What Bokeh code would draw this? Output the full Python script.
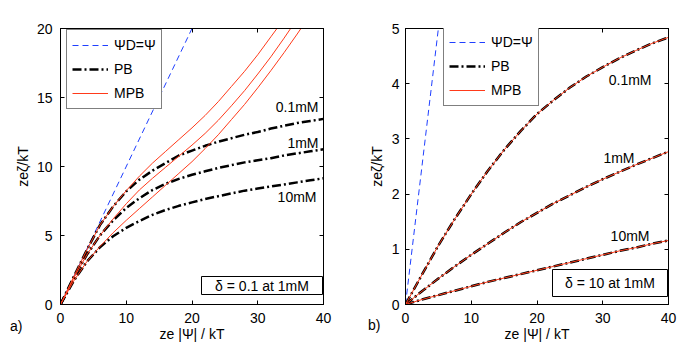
from bokeh.plotting import figure
from bokeh.models import (Range1d, LinearAxis, Legend, LegendItem, Label, BoxAnnotation,
                          FixedTicker, CustomLabelingPolicy, Div)
from bokeh.layouts import row
from bokeh.embed import file_html
from bokeh.resources import INLINE

# ---------------- data ----------------
x_ticks = [0, 10, 20, 30, 40]
y_ticks_a = [0, 5, 10, 15, 20]
y_ticks_b = [0, 1, 2, 3, 4, 5]
conc_labels = ["0.1mM", "1mM", "10mM"]
legend_labels = ["\u03a8D=\u03a8", "PB", "MPB"]
delta_labels = ["\u03b4 = 0.1 at 1mM", "\u03b4 = 10 at 1mM"]
panel_tags = ["a)", "b)"]
x_label = "ze |\u03a8| / kT"
y_label = "ze\u03b6/kT"

# psi_D = psi reference line
psi_line = [0, 40]
zeta_line = [0, 40]

# panel a (delta = 0.1) -- PB
psi_a = [0, 2, 4, 6, 8, 10, 12, 14, 16, 18, 20, 22, 24, 26, 28, 30, 32, 34, 36, 38, 40]
pb_a_01 = [0, 2.0, 3.95, 5.75, 7.1, 8.2, 9.05, 9.7, 10.25, 10.8, 11.15, 11.5, 11.8, 12.05, 12.3,
           12.5, 12.75, 12.95, 13.15, 13.3, 13.45]
pb_a_1 = [0, 1.9, 3.6, 5.0, 6.1, 7.0, 7.7, 8.3, 8.75, 9.1, 9.4, 9.65, 9.9, 10.1, 10.3,
          10.45, 10.6, 10.8, 10.95, 11.1, 11.25]
pb_a_10 = [0, 1.7, 3.1, 4.15, 4.95, 5.55, 6.05, 6.5, 6.85, 7.15, 7.4, 7.65, 7.85, 8.05, 8.25,
           8.4, 8.55, 8.7, 8.85, 9.0, 9.15]

# panel a -- MPB
psi_mpb_a_01 = [0, 2, 4, 6, 8, 10, 12, 14, 16, 18, 20, 22, 24, 26, 28, 30, 32, 34]
mpb_a_01 = [0, 2.0, 3.95, 5.75, 7.1, 8.25, 9.3, 10.25, 11.1, 11.95, 12.8, 13.7, 14.7, 15.8, 16.9,
            18.1, 19.4, 20.7]
psi_mpb_a_1 = [0, 2, 4, 6, 8, 10, 12, 14, 16, 18, 20, 22, 24, 26, 28, 30, 32, 34, 36]
mpb_a_1 = [0, 1.9, 3.6, 5.0, 6.2, 7.3, 8.3, 9.15, 9.95, 10.75, 11.55, 12.4, 13.35, 14.4, 15.5,
           16.7, 17.95, 19.3, 20.7]
psi_mpb_a_10 = [0, 2, 4, 6, 8, 10, 12, 14, 16, 18, 20, 22, 24, 26, 28, 30, 32, 34, 36, 38]
mpb_a_10 = [0, 1.7, 3.1, 4.2, 5.2, 6.1, 6.95, 7.8, 8.65, 9.5, 10.35, 11.3, 12.3, 13.4, 14.5,
            15.7, 16.95, 18.25, 19.6, 21.0]

# panel b (delta = 10) -- PB and MPB coincide
psi_b = [0, 2.5, 5, 7.5, 10, 12.5, 15, 17.5, 20, 22.5, 25, 27.5, 30, 32.5, 35, 37.5, 40]
pb_b_01 = [0, 0.54, 1.07, 1.55, 2.0, 2.42, 2.8, 3.14, 3.45, 3.7, 3.93, 4.13, 4.3, 4.46, 4.6, 4.73, 4.84]
pb_b_1 = [0, 0.24, 0.47, 0.69, 0.9, 1.1, 1.3, 1.49, 1.66, 1.83, 1.98, 2.13, 2.27, 2.4, 2.53, 2.65, 2.77]
pb_b_10 = [0, 0.09, 0.17, 0.25, 0.33, 0.41, 0.48, 0.55, 0.62, 0.69, 0.76, 0.83, 0.9, 0.97, 1.03, 1.1, 1.16]
mpb_b_01 = [0, 0.54, 1.07, 1.55, 2.0, 2.42, 2.8, 3.14, 3.45, 3.7, 3.93, 4.13, 4.3, 4.46, 4.6, 4.73, 4.84]
mpb_b_1 = [0, 0.24, 0.47, 0.69, 0.9, 1.1, 1.3, 1.49, 1.66, 1.83, 1.98, 2.13, 2.27, 2.4, 2.53, 2.65, 2.77]
mpb_b_10 = [0, 0.09, 0.17, 0.25, 0.33, 0.41, 0.48, 0.55, 0.62, 0.69, 0.76, 0.83, 0.9, 0.97, 1.03, 1.1, 1.16]

# ---------------- styles ----------------
FONT = "Liberation Sans"
FS = "14px"
BLUE = "#1f3fff"
RED = "#ff3a1a"
PB_DASH = "9 3 2 3"
NO_LABELS = "for (const i of indices) indices.unset(i)"


def style_axis(ax, ticks, labels=True, standoff=8):
    ax.ticker = FixedTicker(ticks=ticks)
    ax.major_tick_in = 4
    ax.major_tick_out = 0
    ax.minor_tick_in = 0
    ax.minor_tick_out = 0
    ax.axis_line_color = "black"
    ax.major_tick_line_color = "black"
    ax.major_label_text_font = FONT
    ax.major_label_text_color = "black"
    ax.major_label_text_font_size = FS
    ax.axis_label_text_font = FONT
    ax.axis_label_text_font_size = FS
    ax.axis_label_text_font_style = "normal"
    ax.axis_label_text_color = "black"
    if labels:
        ax.major_label_standoff = standoff
    else:
        ax.major_label_standoff = 0
        ax.major_label_policy = CustomLabelingPolicy(code=NO_LABELS)


def make_panel(y_max, y_ticks, bl, br, ystand, ylab_standoff):
    p = figure(frame_width=263, frame_height=276, x_range=Range1d(0, 40), y_range=Range1d(0, y_max),
               output_backend="svg", toolbar_location=None,
               min_border_left=bl, min_border_right=br, min_border_top=28, min_border_bottom=43)
    p.grid.visible = False
    p.outline_line_color = "black"
    p.outline_line_width = 1
    p.background_fill_color = "white"
    p.border_fill_color = "white"
    style_axis(p.xaxis[0], x_ticks, True, 8)
    style_axis(p.yaxis[0], y_ticks, True, ystand)
    p.xaxis[0].axis_label = x_label
    p.xaxis[0].axis_label_standoff = 0
    p.yaxis[0].axis_label = y_label
    p.yaxis[0].axis_label_standoff = ylab_standoff
    top = LinearAxis()
    style_axis(top, x_ticks, False)
    p.add_layout(top, "above")
    right = LinearAxis()
    style_axis(right, y_ticks, False)
    p.add_layout(right, "right")
    return p


def add_text(p, text, x, y, align="center", baseline="middle"):
    p.add_layout(Label(x=x, y=y, x_units="screen", y_units="screen", text=text,
                       text_align=align, text_baseline=baseline, text_font=FONT,
                       text_font_size=FS, text_color="black"))


def add_legend(p, items, loc):
    lg = Legend(items=items, location=loc, border_line_color="black", border_line_width=1,
                background_fill_color="white", background_fill_alpha=1.0,
                label_text_font=FONT, label_text_font_size=FS, label_text_color="black",
                glyph_width=36, glyph_height=20, label_height=20, spacing=4, padding=5,
                label_standoff=6, margin=0)
    p.add_layout(lg)


def add_box(p, text, left, right, bottom, top):
    p.add_layout(BoxAnnotation(left=left, right=right, bottom=bottom, top=top,
                               left_units="screen", right_units="screen",
                               bottom_units="screen", top_units="screen",
                               fill_color="white", fill_alpha=1.0,
                               line_color="black", line_width=1, line_alpha=1.0))
    add_text(p, text, (left + right) / 2, (bottom + top) / 2)


def tag_div(text, left, top):
    return Div(text=text, width=24, height=18, margin=0,
               styles={"position": "absolute", "left": f"{left}px", "top": f"{top}px",
                       "font-family": FONT, "font-size": FS, "color": "black",
                       "line-height": "16px"})


# ---------------- panel a ----------------
pa = make_panel(20, y_ticks_a, 60, 23, 8, 3)
ba = pa.line(psi_line, zeta_line, line_color=BLUE, line_width=1, line_dash="6 4")
pb1 = pa.line(psi_a, pb_a_01, line_color="black", line_width=2.5, line_dash=PB_DASH)
pa.line(psi_a, pb_a_1, line_color="black", line_width=2.5, line_dash=PB_DASH)
pa.line(psi_a, pb_a_10, line_color="black", line_width=2.5, line_dash=PB_DASH)
ma = pa.line(psi_mpb_a_01, mpb_a_01, line_color=RED, line_width=1)
pa.line(psi_mpb_a_1, mpb_a_1, line_color=RED, line_width=1)
pa.line(psi_mpb_a_10, mpb_a_10, line_color=RED, line_width=1)
add_legend(pa, [LegendItem(label=legend_labels[0], renderers=[ba]),
                LegendItem(label=legend_labels[1], renderers=[pb1]),
                LegendItem(label=legend_labels[2], renderers=[ma])], (6, 195))
add_text(pa, conc_labels[0], 258, 198, align="right")
add_text(pa, conc_labels[1], 258, 161.5, align="right")
add_text(pa, conc_labels[2], 256, 108, align="right")
add_box(pa, delta_labels[0], 141, 262, 10, 28)

# ---------------- panel b ----------------
pbp = make_panel(5, y_ticks_b, 59, 24, 6, 4)
bb = pbp.line(psi_line, zeta_line, line_color=BLUE, line_width=1, line_dash="6 4")
pbb1 = pbp.line(psi_b, pb_b_01, line_color="black", line_width=2.5, line_dash=PB_DASH)
pbp.line(psi_b, pb_b_1, line_color="black", line_width=2.5, line_dash=PB_DASH)
pbp.line(psi_b, pb_b_10, line_color="black", line_width=2.5, line_dash=PB_DASH)
mb = pbp.line(psi_b, mpb_b_01, line_color=RED, line_width=1)
pbp.line(psi_b, mpb_b_1, line_color=RED, line_width=1)
pbp.line(psi_b, mpb_b_10, line_color=RED, line_width=1)
add_legend(pbp, [LegendItem(label=legend_labels[0], renderers=[bb]),
                 LegendItem(label=legend_labels[1], renderers=[pbb1]),
                 LegendItem(label=legend_labels[2], renderers=[mb])], (38, 198))
add_text(pbp, conc_labels[0], 246, 225, align="right")
add_text(pbp, conc_labels[1], 229, 147, align="right")
add_text(pbp, conc_labels[2], 244, 69, align="right")
add_box(pbp, delta_labels[1], 147, 262, 8, 35)

layout = row(pa, pbp, tag_div(panel_tags[0], 10, 318), tag_div(panel_tags[1], 368, 317))
open("out.html", "w").write(file_html(layout, INLINE))
